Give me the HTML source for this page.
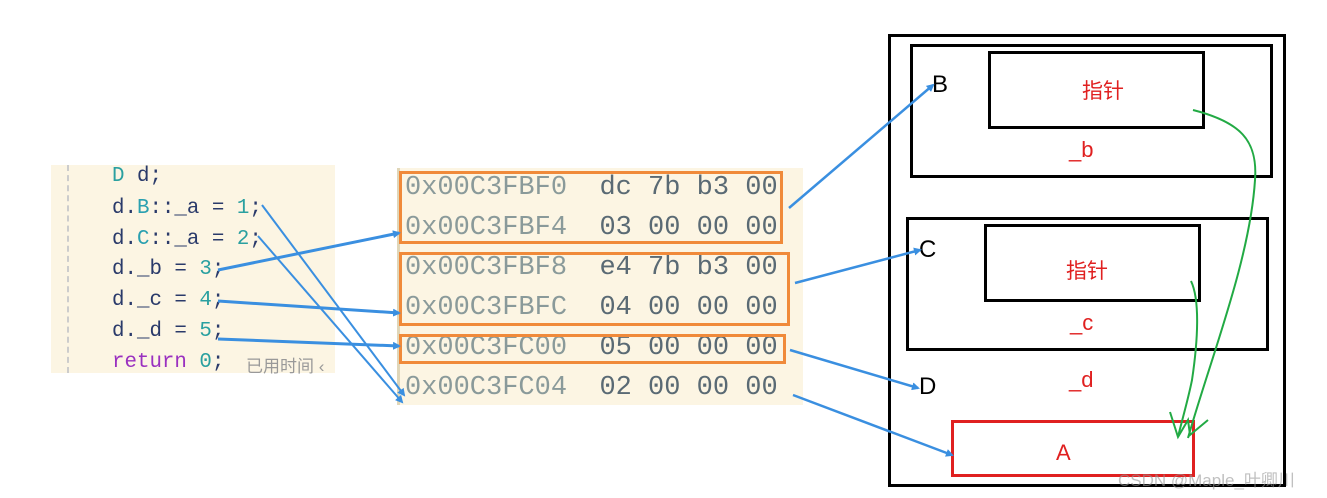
<!DOCTYPE html>
<html><head><meta charset="utf-8"><style>
body{margin:0;width:1327px;height:498px;background:#fff;position:relative;overflow:hidden;font-family:"Liberation Sans","Noto Sans CJK SC",sans-serif}
.a{position:absolute;white-space:pre}
.code{position:absolute;left:51px;top:165px;width:284px;height:208px;background:#fcf5e3}
.cl{position:absolute;left:112px;font-family:"Liberation Mono","Noto Sans CJK SC",monospace;font-size:20.8px;line-height:24px;color:#2a3a6a;white-space:pre}
.mem{position:absolute;left:397px;top:168px;width:403px;height:237px;background:#fcf5e3;border-left:3px solid #e0d6b8}
.ml{position:absolute;left:405px;font-family:"Liberation Mono",monospace;font-size:27px;line-height:32px;color:#8a9a9a;white-space:pre}
.ml b{font-weight:normal;color:#5a6a74}
.ob{position:absolute;border:3px solid #f08a3a;box-sizing:border-box}
.bx{position:absolute;border:3px solid #000;box-sizing:border-box}
.lb{position:absolute;font-size:24px;color:#000}
.rd{position:absolute;font-size:22px;color:#e02020}
</style></head><body>
<div class="code"></div>
<div style="position:absolute;left:67px;top:165px;height:208px;border-left:2px dashed #ccc"></div>
<div class="cl" style="top:165px"><span style="color:#2aa0a0">D</span> d;</div>
<div class="cl" style="top:197px">d.<span style="color:#2aa0b0">B</span>::_a = <span style="color:#2aa0a0">1</span>;</div>
<div class="cl" style="top:228px">d.<span style="color:#2aa0b0">C</span>::_a = <span style="color:#2aa0a0">2</span>;</div>
<div class="cl" style="top:258px">d._b = <span style="color:#2aa0a0">3</span>;</div>
<div class="cl" style="top:289px">d._c = <span style="color:#2aa0a0">4</span>;</div>
<div class="cl" style="top:320px">d._d = <span style="color:#2aa0a0">5</span>;</div>
<div class="cl" style="top:351px"><span style="color:#9a30c0">return</span> <span style="color:#2aa0a0">0</span>;</div>
<div class="a" style="left:246px;top:352px;font-size:17px;color:#999">已用时间 ‹</div>
<div class="mem"></div>
<div class="ml" style="top:172px">0x00C3FBF0  <b>dc 7b b3 00</b></div>
<div class="ml" style="top:212px">0x00C3FBF4  <b>03 00 00 00</b></div>
<div class="ml" style="top:252px">0x00C3FBF8  <b>e4 7b b3 00</b></div>
<div class="ml" style="top:292px">0x00C3FBFC  <b>04 00 00 00</b></div>
<div class="ml" style="top:332px">0x00C3FC00  <b>05 00 00 00</b></div>
<div class="ml" style="top:372px">0x00C3FC04  <b>02 00 00 00</b></div>
<div class="ob" style="left:399px;top:171px;width:384px;height:73px"></div>
<div class="ob" style="left:399px;top:252px;width:391px;height:74px"></div>
<div class="ob" style="left:399px;top:334px;width:387px;height:30px"></div>
<div class="bx" style="left:888px;top:34px;width:398px;height:453px"></div>
<div class="bx" style="left:910px;top:44px;width:363px;height:134px"></div>
<div class="bx" style="left:988px;top:51px;width:217px;height:78px"></div>
<div class="bx" style="left:906px;top:217px;width:363px;height:134px"></div>
<div class="bx" style="left:984px;top:224px;width:217px;height:78px"></div>
<div style="position:absolute;left:951px;top:420px;width:244px;height:57px;border:3px solid #e02020;box-sizing:border-box"></div>
<div class="lb" style="left:932px;top:71px">B</div>
<div class="lb" style="left:919px;top:236px">C</div>
<div class="lb" style="left:919px;top:373px">D</div>
<div class="rd" style="left:1069px;top:137px">_b</div>
<div class="rd" style="left:1070px;top:310px">_c</div>
<div class="rd" style="left:1069px;top:367px">_d</div>
<div class="rd" style="left:1056px;top:440px">A</div>
<div class="rd" style="left:1082px;top:75px;font-size:21px">指针</div>
<div class="rd" style="left:1066px;top:255px;font-size:21px">指针</div>
<div class="a" style="left:1118px;top:466px;font-size:17px;color:rgba(150,150,150,.6)">CSDN @Maple_叶卿川</div>
<svg width="1327" height="498" style="position:absolute;left:0;top:0">
<defs><marker id="m" markerWidth="8" markerHeight="8" refX="6" refY="4" orient="auto" markerUnits="userSpaceOnUse"><path d="M0,0 L8,4 L0,8z" fill="#3a8fe0"/></marker></defs>
<g stroke="#3a8fe0" fill="none" marker-end="url(#m)">
<line x1="218" y1="270" x2="399" y2="233" stroke-width="3"/>
<line x1="218" y1="301" x2="399" y2="313" stroke-width="3"/>
<line x1="218" y1="339" x2="399" y2="346" stroke-width="3"/>
<line x1="262" y1="205" x2="404" y2="395" stroke-width="2"/>
<line x1="258" y1="236" x2="402" y2="402" stroke-width="2"/>
<line x1="789" y1="208" x2="933" y2="85" stroke-width="2.5"/>
<line x1="795" y1="283" x2="920" y2="250" stroke-width="2.5"/>
<line x1="790" y1="350" x2="918" y2="388" stroke-width="2.5"/>
<line x1="793" y1="395" x2="952" y2="455" stroke-width="2.5"/>
</g>
<g stroke="#22aa44" fill="none" stroke-width="2">
<path d="M1193,110 C1240,122 1258,140 1255,180 C1250,260 1210,360 1188,438"/>
<path d="M1191,281 C1200,300 1198,340 1192,380 C1188,400 1182,420 1178,437"/>
<path d="M1170,412 L1178,437 L1188,420 L1190,435 L1208,420"/>
</g>
</svg>
</body></html>
